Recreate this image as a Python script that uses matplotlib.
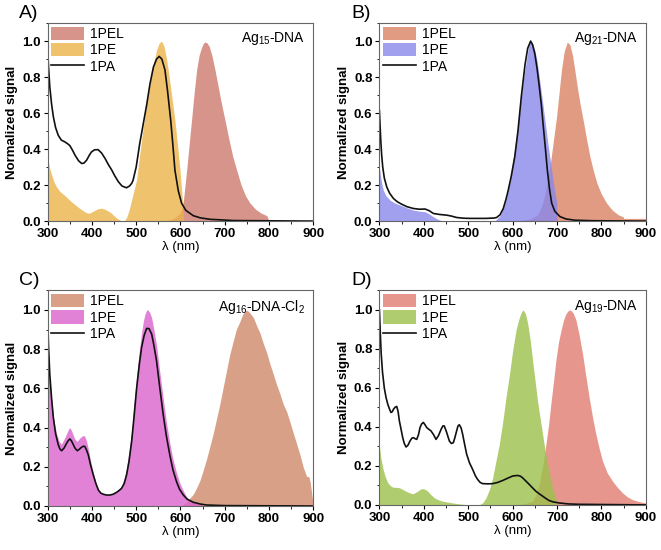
import matplotlib
matplotlib.use('Agg')
import matplotlib.pyplot as plt
from matplotlib.ticker import MultipleLocator

plt.rcParams['font.family'] = ['Liberation Sans', 'DejaVu Sans']
plt.rcParams['mathtext.fontset'] = 'custom'
plt.rcParams['mathtext.rm'] = 'Liberation Sans'

# ---- Panel A: Ag15-DNA ----
a_pa_x = [300, 302, 305, 309, 313, 318, 324, 331, 339, 345, 350, 356, 362, 370, 377, 382, 388, 394, 399,
          406, 414, 422, 430, 437, 445, 452, 460, 468, 478, 485, 490, 493, 500, 508, 516, 524, 531, 539,
          546, 552, 558, 565, 571, 578, 583, 587.5, 595, 602.5, 612, 629, 645, 667, 720, 900]
a_pa_y = [0.97, 0.86, 0.745, 0.65, 0.58, 0.52, 0.477, 0.45, 0.44, 0.43, 0.42, 0.395, 0.366, 0.335, 0.32,
          0.322, 0.338, 0.365, 0.384, 0.396, 0.397, 0.378, 0.347, 0.315, 0.283, 0.25, 0.218, 0.195, 0.185,
          0.195, 0.21, 0.227, 0.30, 0.43, 0.54, 0.65, 0.76, 0.856, 0.90, 0.915, 0.90, 0.84, 0.72, 0.56,
          0.42, 0.283, 0.17, 0.10, 0.06, 0.03, 0.018, 0.01, 0.003, 0.0]
a_pe_x = [300, 305, 310, 315, 320, 328, 335, 342, 350, 360, 373, 385, 392, 398, 405, 413, 422, 430, 441,
          450, 458, 465, 470, 475, 480, 485, 490, 496, 501, 508, 516, 524, 531, 538, 546, 552, 557.5, 563,
          568, 572.5, 580, 587.5, 593, 599, 603, 606, 607]
a_pe_y = [0.35, 0.29, 0.25, 0.215, 0.19, 0.165, 0.15, 0.135, 0.116, 0.095, 0.07, 0.05, 0.043, 0.048,
          0.058, 0.068, 0.072, 0.065, 0.05, 0.03, 0.013, 0.004, 0.0, 0.005, 0.03, 0.07, 0.12, 0.18, 0.23,
          0.37, 0.52, 0.66, 0.76, 0.86, 0.95, 0.99, 1.0, 0.97, 0.91, 0.837, 0.70, 0.56, 0.43, 0.283, 0.16,
          0.05, 0.0]
a_pel_x = [555, 570, 585, 595, 600, 604, 607, 610, 614, 619, 625, 630, 636.5, 642, 647, 651, 655, 660,
           665, 671, 678, 685, 692, 700.6, 709, 718, 727, 737, 747, 757, 770, 782, 795, 800]
a_pel_y = [0.0, 0.005, 0.015, 0.035, 0.05, 0.08, 0.12, 0.19, 0.283, 0.41, 0.56, 0.69, 0.84, 0.92, 0.96,
           0.985, 0.995, 0.99, 0.97, 0.92, 0.84, 0.75, 0.66, 0.56, 0.46, 0.36, 0.283, 0.20, 0.14, 0.10,
           0.065, 0.045, 0.03, 0.0]

# ---- Panel B: Ag21-DNA ----
b_pa_x = [300, 301.5, 303, 305, 307.5, 311, 316.5, 323, 331.5, 340, 350, 362, 376.5, 390, 403, 412,
          421.5, 435, 451.5, 462, 474, 490, 504, 540, 558, 564, 571.6, 579, 585, 590, 597, 605, 612,
          620, 628, 634, 640.6, 645, 650, 655, 660, 665, 669, 674, 678, 683, 688, 695, 706.6, 720, 740,
          780, 900]
b_pa_y = [0.615, 0.53, 0.45, 0.37, 0.30, 0.24, 0.19, 0.155, 0.126, 0.108, 0.094, 0.08, 0.07, 0.066,
          0.067, 0.058, 0.0425, 0.037, 0.033, 0.028, 0.02, 0.016, 0.015, 0.015, 0.017, 0.02, 0.035,
          0.07, 0.12, 0.17, 0.25, 0.36, 0.50, 0.70, 0.87, 0.96, 1.0, 0.98, 0.93, 0.85, 0.75, 0.64,
          0.53, 0.40, 0.29, 0.18, 0.10, 0.055, 0.025, 0.012, 0.005, 0.002, 0.0]
b_pe_x = [300, 303, 306, 309, 315, 324, 335, 346.5, 360, 376.5, 390, 403, 412, 421.5, 430, 436.5, 445,
          560, 571.5, 580, 586.5, 594, 601.5, 609, 616.5, 624, 631.5, 636, 640, 645, 650, 655, 660,
          666, 672.8, 680, 688, 694, 699, 700.5]
b_pe_y = [0.30, 0.24, 0.20, 0.17, 0.14, 0.116, 0.10, 0.089, 0.075, 0.061, 0.055, 0.052, 0.04, 0.024,
          0.012, 0.005, 0.0, 0.0, 0.03, 0.08, 0.13, 0.22, 0.35, 0.48, 0.62, 0.78, 0.90, 0.97, 1.0,
          0.985, 0.95, 0.89, 0.80, 0.69, 0.56, 0.42, 0.283, 0.18, 0.11, 0.0]
b_pel_x = [610, 625, 640, 654, 662, 669, 676, 684, 691, 699, 705, 710, 716, 723, 729, 735, 740, 746,
           752, 759, 767, 774, 781.6, 790, 800, 811.7, 825, 838, 849, 850, 900]
b_pel_y = [0.0, 0.005, 0.012, 0.03, 0.06, 0.11, 0.19, 0.30, 0.43, 0.58, 0.72, 0.84, 0.94, 0.995, 0.98,
           0.92, 0.84, 0.74, 0.65, 0.56, 0.45, 0.36, 0.283, 0.21, 0.15, 0.10, 0.06, 0.035, 0.024,
           0.015, 0.015]

# ---- Panel C: Ag16-DNA-Cl2 ----
c_pa_x = [300, 302, 305, 309, 313, 318, 324, 328, 331.6, 337, 343, 347, 350.5, 354, 358, 362, 367, 372,
          376.8, 381, 384, 388, 392, 397, 403, 409, 414.5, 420, 425.8, 433, 440.8, 448, 455.9, 462,
          467, 473, 478.5, 484, 489.8, 495, 501, 507, 512.3, 518, 523.6, 529, 535, 540, 546, 553, 561,
          568, 576, 583, 591, 598, 606.5, 615, 629, 645, 659, 700, 900]
c_pa_y = [0.98, 0.82, 0.67, 0.55, 0.45, 0.37, 0.313, 0.29, 0.282, 0.295, 0.32, 0.335, 0.342, 0.332,
          0.313, 0.295, 0.282, 0.29, 0.30, 0.305, 0.304, 0.285, 0.26, 0.21, 0.16, 0.115, 0.082, 0.066,
          0.06, 0.056, 0.056, 0.06, 0.07, 0.08, 0.09, 0.115, 0.16, 0.23, 0.33, 0.45, 0.60, 0.72, 0.81,
          0.87, 0.906, 0.905, 0.877, 0.82, 0.74, 0.61, 0.467, 0.36, 0.26, 0.185, 0.125, 0.085, 0.056,
          0.035, 0.019, 0.01, 0.005, 0.002, 0.0]
c_pe_x = [300, 303, 306, 310, 315, 320, 326, 331, 337, 343, 347, 350, 354, 358, 362, 367, 372, 377,
          381, 384, 388, 392, 397, 403, 409, 415, 420, 426, 433, 441, 448, 456, 462, 467, 473, 478,
          484, 490, 495, 501, 507, 512, 516, 520, 524, 527, 531, 535, 540, 546, 553, 561, 568, 576,
          583, 591, 598, 606, 613, 620, 630, 640, 650, 660]
c_pe_y = [0.85, 0.72, 0.62, 0.52, 0.43, 0.37, 0.33, 0.315, 0.34, 0.37, 0.39, 0.40, 0.385, 0.36, 0.34,
          0.33, 0.345, 0.355, 0.36, 0.355, 0.33, 0.29, 0.23, 0.17, 0.12, 0.085, 0.068, 0.062, 0.058,
          0.058, 0.063, 0.075, 0.088, 0.10, 0.14, 0.19, 0.28, 0.38, 0.52, 0.66, 0.79, 0.88, 0.94, 0.98,
          1.0, 1.0, 0.985, 0.96, 0.90, 0.82, 0.69, 0.55, 0.43, 0.32, 0.24, 0.17, 0.12, 0.08, 0.05,
          0.03, 0.018, 0.01, 0.004, 0.0]
c_pel_x = [600, 607, 614, 621, 629, 636, 644, 651, 659, 666, 674, 681, 689, 696, 704, 711, 719, 726,
           734, 741, 749.5, 757, 765, 772, 780, 787, 795, 802, 810, 817, 825, 832, 840, 847, 855, 862,
           870, 877, 885, 890, 893, 896, 900]
c_pel_y = [0.0, 0.008, 0.02, 0.04, 0.06, 0.09, 0.13, 0.18, 0.24, 0.30, 0.37, 0.44, 0.52, 0.60, 0.69,
           0.77, 0.84, 0.90, 0.94, 0.98, 1.0, 0.985, 0.96, 0.92, 0.88, 0.83, 0.78, 0.725, 0.67, 0.62,
           0.57, 0.52, 0.48, 0.43, 0.37, 0.32, 0.26, 0.20, 0.15, 0.15, 0.12, 0.07, 0.0]

# ---- Panel D: Ag19-DNA ----
d_pa_x = [300, 302, 304, 307, 311, 315, 319, 323, 326, 329, 331.5, 335, 339, 342, 345, 349, 352.5, 356,
          360, 364, 369, 373, 376.5, 380, 384, 388, 391.5, 395, 399, 403, 406.5, 411, 416, 422, 427.5,
          433, 439, 443, 446, 451, 457.5, 462, 466.5, 470, 474, 477, 480, 484, 487.5, 492, 496.5, 503,
          510, 516, 521, 527, 532.5, 545, 555, 566, 577.5, 590, 600, 611, 617, 622.5, 630, 637.5, 645,
          652.5, 660, 667.5, 675, 682.5, 692, 705, 725, 750, 900]
d_pa_y = [1.0, 0.88, 0.775, 0.68, 0.60, 0.55, 0.515, 0.49, 0.474, 0.478, 0.49, 0.50, 0.505, 0.48, 0.43,
          0.385, 0.345, 0.315, 0.297, 0.305, 0.328, 0.342, 0.345, 0.34, 0.336, 0.36, 0.397, 0.415,
          0.423, 0.41, 0.397, 0.388, 0.38, 0.36, 0.336, 0.355, 0.388, 0.405, 0.405, 0.375, 0.328,
          0.315, 0.319, 0.345, 0.38, 0.405, 0.411, 0.395, 0.362, 0.31, 0.26, 0.215, 0.182, 0.15,
          0.131, 0.115, 0.109, 0.108, 0.109, 0.115, 0.125, 0.138, 0.148, 0.151, 0.148, 0.139, 0.122,
          0.105, 0.087, 0.07, 0.057, 0.045, 0.033, 0.022, 0.015, 0.01, 0.005, 0.003, 0.0]
d_pe_x = [300, 303, 307.5, 313, 319, 325, 330, 338, 345, 352, 360, 368, 375, 380, 386, 392, 397.5, 403,
          409, 416, 424, 433, 442.5, 455, 465, 480, 495, 510, 525, 533, 540, 548, 555, 562, 570, 578,
          585, 593, 600, 608, 615, 620, 624, 629, 634, 640, 645, 651, 656, 662, 667.5, 673, 679, 685,
          690, 695, 699, 701]
d_pe_y = [0.30, 0.245, 0.19, 0.145, 0.113, 0.098, 0.091, 0.09, 0.088, 0.08, 0.07, 0.062, 0.057, 0.062,
          0.07, 0.08, 0.084, 0.08, 0.07, 0.052, 0.036, 0.026, 0.019, 0.014, 0.01, 0.005, 0.002, 0.0,
          0.0, 0.012, 0.036, 0.08, 0.139, 0.22, 0.31, 0.43, 0.55, 0.67, 0.79, 0.90, 0.96, 0.99, 1.0,
          0.98, 0.93, 0.84, 0.74, 0.63, 0.535, 0.445, 0.363, 0.28, 0.208, 0.14, 0.088, 0.05, 0.025, 0.0]
d_pel_x = [611, 630, 645, 652, 660, 668, 675, 681, 686, 692, 697.5, 703, 709, 715, 720, 725, 730, 736,
           742.5, 750, 757.5, 765, 772.5, 780, 787.5, 795, 802.5, 813, 825, 836, 847.5, 858, 870, 885, 900]
d_pel_y = [0.0, 0.008, 0.019, 0.05, 0.105, 0.20, 0.31, 0.41, 0.515, 0.63, 0.74, 0.83, 0.895, 0.95,
           0.98, 0.995, 1.0, 0.985, 0.95, 0.87, 0.775, 0.66, 0.55, 0.45, 0.363, 0.29, 0.225, 0.165,
           0.122, 0.09, 0.062, 0.042, 0.027, 0.017, 0.01]

panels = [
    ('A)', r'Ag$_{\mathregular{15}}$-DNA', a_pel_x, a_pel_y, a_pe_x, a_pe_y, a_pa_x, a_pa_y, '#ce796d', '#ecb44a'),
    ('B)', r'Ag$_{\mathregular{21}}$-DNA', b_pel_x, b_pel_y, b_pe_x, b_pe_y, b_pa_x, b_pa_y, '#d98263', '#8888ec'),
    ('C)', r'Ag$_{\mathregular{16}}$-DNA-Cl$_{\mathregular{2}}$', c_pel_x, c_pel_y, c_pe_x, c_pe_y, c_pa_x, c_pa_y, '#cd8869', '#da63cd'),
    ('D)', r'Ag$_{\mathregular{19}}$-DNA', d_pel_x, d_pel_y, d_pe_x, d_pe_y, d_pa_x, d_pa_y, '#e07c6f', '#9bc14a'),
]

# axes boxes [left, bottom, width, height] in figure fractions
boxes = [
    [0.072, 0.598, 0.402, 0.360],
    [0.574, 0.598, 0.403, 0.360],
    [0.072, 0.080, 0.402, 0.392],
    [0.574, 0.082, 0.403, 0.390],
]

fig = plt.figure(figsize=(6.61, 5.5), dpi=100)

for (tag, name, pel_x, pel_y, pe_x, pe_y, pa_x, pa_y, c_pel, c_pe), box in zip(panels, boxes):
    ax = fig.add_axes(box)
    ax.fill_between(pel_x, pel_y, 0, color=c_pel, alpha=0.8, lw=0, label='1PEL')
    ax.fill_between(pe_x, pe_y, 0, color=c_pe, alpha=0.8, lw=0, label='1PE')
    ax.plot(pa_x, pa_y, color='#111111', lw=1.2, label='1PA')

    ax.set_xlim(300, 900)
    ax.set_ylim(0, 1.1)
    ax.xaxis.set_major_locator(MultipleLocator(100))
    ax.xaxis.set_minor_locator(MultipleLocator(50))
    ax.yaxis.set_major_locator(MultipleLocator(0.2))
    ax.yaxis.set_minor_locator(MultipleLocator(0.1))
    ax.yaxis.set_major_formatter(plt.FormatStrFormatter('%.1f'))
    ax.tick_params(which='major', direction='out', length=3, width=0.8, labelsize=9.5, pad=2)
    ax.tick_params(which='minor', direction='out', length=1.8, width=0.6)
    for lab in ax.get_xticklabels() + ax.get_yticklabels():
        lab.set_fontweight('bold')
    for sp in ax.spines.values():
        sp.set_color('#666666')
        sp.set_linewidth(0.8)

    ax.set_xlabel('λ (nm)', fontsize=9.5, labelpad=1)
    ax.set_ylabel('Normalized signal', fontsize=9.5, fontweight='bold', labelpad=3)

    ax.legend(loc='upper left', frameon=False, fontsize=10, handlelength=2.4, handleheight=1.1,
              labelspacing=0.15, borderaxespad=0.1, handletextpad=0.4, borderpad=0.15)
    ax.text(0.97, 0.965, name, transform=ax.transAxes, ha='right', va='top', fontsize=10)

    pos = ax.get_position()
    fig.text(pos.x0 - 0.043, pos.y1 + 0.002, tag, fontsize=14, ha='left', va='bottom')

fig.savefig('out.png', dpi=100)
